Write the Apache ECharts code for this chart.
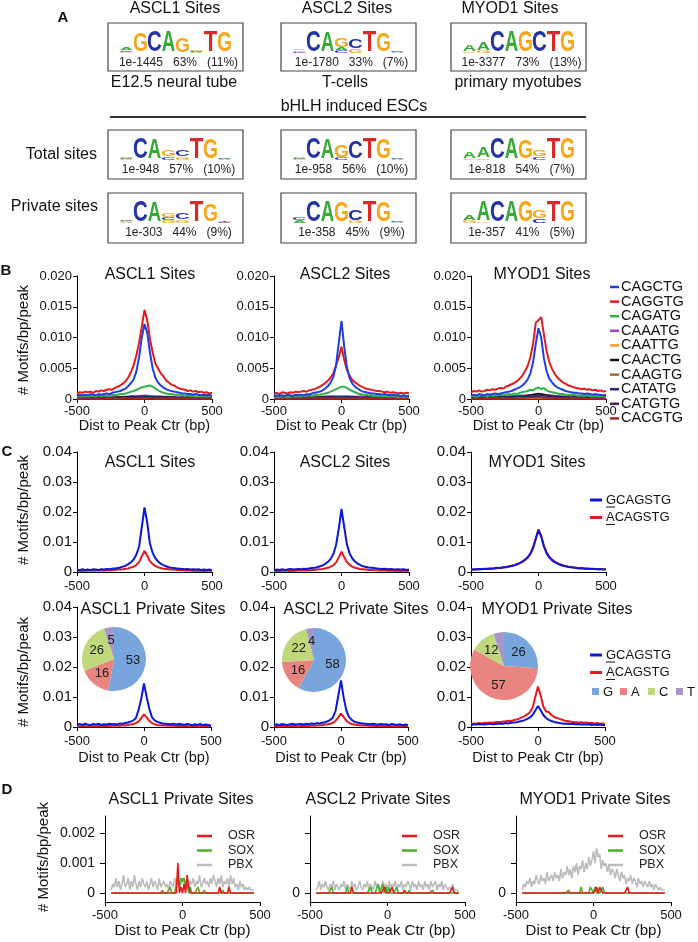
<!DOCTYPE html>
<html lang="en">
<head>
<meta charset="UTF-8">
<title>bHLH motif figure</title>
<script src="https://cdn.jsdelivr.net/npm/echarts@6/dist/echarts.min.js"></script>
<style>
  body { margin: 0; background: #fff; }
  #main { width: 698px; height: 942px; }
</style>
</head>
<body>
<div id="main"></div>
<script>
// ---------- data ----------
const factors = ['ASCL1 Sites', 'ASCL2 Sites', 'MYOD1 Sites'];
const sources = ['E12.5 neural tube', 'T-cells', 'primary myotubes'];
const privateTitles = ['ASCL1 Private Sites', 'ASCL2 Private Sites', 'MYOD1 Private Sites'];

const statsA = ['1e-1445   63%   (11%)', '1e-1780   33%   (7%)', '1e-3377   73%   (13%)'];
const statsT = ['1e-948   57%   (10%)', '1e-958   56%   (10%)', '1e-818   54%   (7%)'];
const statsP = ['1e-303   44%   (9%)', '1e-358   45%   (9%)', '1e-357   41%   (5%)'];

// sequence logos: each position is a bottom-to-top stack of [letter, relative height]
const logoA_ASCL1 = [[['G',0.06],['C',0.05],['A',0.14]], [['G',0.85]], [['C',1]], [['A',1]], [['G',0.68]], [['A',0.05],['C',0.06],['G',0.08]], [['T',1]], [['G',0.95]]];
const logoA_ASCL2 = [[['C',0.06],['G',0.06],['A',0.08]], [['C',1]], [['A',0.92]], [['C',0.15],['A',0.1],['G',0.45]], [['G',0.18],['C',0.45]], [['T',1]], [['G',0.9]], [['A',0.05],['C',0.07]]];
const logoA_MYOD1 = [[['G',0.08],['A',0.3]], [['G',0.1],['A',0.38]], [['C',1]], [['A',1]], [['G',1]], [['C',1]], [['T',1]], [['G',1]]];
const logoT_ASCL1 = [[['G',0.05],['C',0.05],['A',0.07]], [['C',1]], [['A',0.92]], [['C',0.15],['G',0.32]], [['G',0.15],['C',0.32]], [['T',1]], [['G',0.95]], [['A',0.05],['C',0.08]]];
const logoT_ASCL2 = [[['G',0.04],['C',0.06],['A',0.05]], [['C',1]], [['A',0.95]], [['C',0.1],['G',0.55]], [['C',0.8]], [['T',1]], [['G',0.95]], [['A',0.05],['C',0.08]]];
const logoT_MYOD1 = [[['G',0.08],['A',0.32]], [['G',0.08],['A',0.5]], [['C',1]], [['A',1]], [['G',0.85]], [['C',0.14],['G',0.3]], [['T',1]], [['G',1]]];
const logoP_ASCL1 = [[['A',0.05],['G',0.06],['C',0.05]], [['C',1]], [['A',0.95]], [['G',0.14],['C',0.14],['G',0.2]], [['G',0.15],['C',0.3]], [['T',1]], [['G',0.82]], [['C',0.04],['T',0.05]]];
const logoP_ASCL2 = [[['A',0.12],['C',0.1]], [['C',1]], [['A',1]], [['G',0.92]], [['G',0.1],['C',0.48]], [['T',1]], [['G',0.95]], [['A',0.05],['C',0.07]]];
const logoP_MYOD1 = [[['G',0.1],['A',0.25]], [['G',0.05],['A',0.92]], [['C',1]], [['A',1]], [['G',1]], [['C',0.18],['G',0.38]], [['T',1]], [['G',1]]];

// bin centres (bp)
const xStep20 = [-500,-480,-460,-440,-420,-400,-380,-360,-340,-320,-300,-280,-260,-240,-220,-200,-180,-160,-140,-120,-100,-80,-60,-40,-20,0,20,40,60,80,100,120,140,160,180,200,220,240,260,280,300,320,340,360,380,400,420,440,460,480,500];
const xStep50 = [-500,-450,-400,-350,-300,-250,-200,-150,-100,-50,0,50,100,150,200,250,300,350,400,450,500];
const xStep10 = [
  -460,-450,-440,-430,-420,-410,-400,-390,-380,-370,
  -360,-350,-340,-330,-320,-310,-300,-290,-280,-270,
  -260,-250,-240,-230,-220,-210,-200,-190,-180,-170,
  -160,-150,-140,-130,-120,-110,-100,-90,-80,-70,
  -60,-50,-40,-30,-20,-10,0,10,20,30,
  40,50,60,70,80,90,100,110,120,130,
  140,150,160,170,180,190,200,210,220,230,
  240,250,260,270,280,290,300,310,320,330,
  340,350,360,370,380,390,400,410,420,430,
  440,450,460];

// panel B
const bMotifs = ['CAGCTG','CAGGTG','CAGATG','CAAATG','CAATTG','CAACTG','CAAGTG','CATATG','CATGTG','CACGTG'];

const bA1_CAGCTG = [.0005,.0007,.0006,.0007,.0006,.0008,.0007,.0006,.0008,.0007,
  .0008,.0009,.0008,.0010,.0011,.0012,.0013,.0015,.0017,.0021,
  .0026,.0032,.0045,.0068,.0100,.0122,.0108,.0076,.0050,.0035,
  .0027,.0022,.0019,.0016,.0014,.0013,.0012,.0011,.0010,.0009,
  .0009,.0008,.0008,.0007,.0008,.0007,.0006,.0007,.0006,.0007,.0005];
const bA1_CAGGTG = [.0009,.0011,.0010,.0012,.0011,.0012,.0010,.0013,.0012,.0014,
  .0013,.0015,.0016,.0015,.0018,.0020,.0022,.0025,.0029,.0035,
  .0044,.0055,.0071,.0092,.0118,.0145,.0128,.0098,.0076,.0058,
  .0050,.0042,.0037,.0030,.0027,.0023,.0022,.0019,.0017,.0016,
  .0015,.0013,.0014,.0012,.0013,.0011,.0012,.0010,.0011,.0009,.0010];
const bA1_CAGATG = [.0004,.0005,.0004,.0005,.0004,.0005,.0005,.0004,.0006,.0005,
  .0006,.0005,.0006,.0007,.0006,.0007,.0008,.0008,.0009,.0010,
  .0012,.0013,.0015,.0017,.0019,.0020,.0021,.0022,.0020,.0017,
  .0014,.0012,.0010,.0009,.0008,.0008,.0007,.0007,.0006,.0006,
  .0005,.0006,.0005,.0005,.0004,.0005,.0004,.0005,.0004,.0005,.0004];
const bA1_CAAATG = [.0003,.0004,.0003,.0004,.0004,.0003,.0004,.0004,.0005,.0005,.0006,.0005,.0005,.0004,.0004,.0003,.0004,.0003,.0004,.0003,.0003];
const bA1_CAATTG = [.00005,.00004,.00006,.00005,.00004,.00005,.00006,.00005,.00004,.00006,.00007,.00005,.00006,.00004,.00005,.00006,.00004,.00005,.00006,.00004,.00005];
const bA1_CAACTG = [.0002,.0003,.0002,.0003,.0003,.0002,.0003,.0003,.0004,.0004,.0004,.0004,.0003,.0003,.0003,.0002,.0003,.0002,.0003,.0002,.0002];
const bA1_CAAGTG = [.0001,.0001,.0002,.0001,.0001,.0002,.0001,.0002,.0002,.0002,.0002,.0002,.0001,.0002,.0001,.0001,.0002,.0001,.0001,.0001,.0001];
const bA1_CATATG = [.0002,.0003,.0002,.0002,.0003,.0002,.0003,.0002,.0003,.0003,.0004,.0003,.0003,.0002,.0003,.0002,.0002,.0003,.0002,.0002,.0002];
const bA1_CATGTG = [.0001,.0001,.0001,.0002,.0001,.0001,.0001,.0002,.0001,.0002,.0002,.0001,.0002,.0001,.0001,.0001,.0002,.0001,.0001,.0001,.0001];
const bA1_CACGTG = [.0001,.0002,.0001,.0001,.0002,.0001,.0001,.0002,.0001,.0001,.0002,.0002,.0001,.0001,.0002,.0001,.0001,.0001,.0002,.0001,.0001];

const bA2_CAGCTG = [.0004,.0006,.0005,.0006,.0005,.0007,.0006,.0005,.0007,.0006,
  .0007,.0006,.0008,.0007,.0009,.0010,.0011,.0012,.0014,.0017,
  .0021,.0027,.0036,.0055,.0092,.0127,.0085,.0052,.0034,.0025,
  .0020,.0017,.0014,.0012,.0011,.0010,.0009,.0009,.0008,.0008,
  .0007,.0008,.0007,.0006,.0007,.0006,.0006,.0005,.0006,.0005,.0005];
const bA2_CAGGTG = [.0009,.0010,.0008,.0011,.0010,.0009,.0011,.0010,.0012,.0011,
  .0012,.0013,.0012,.0014,.0015,.0016,.0018,.0020,.0023,.0026,
  .0030,.0035,.0042,.0055,.0068,.0085,.0064,.0047,.0038,.0031,
  .0027,.0024,.0021,.0019,.0017,.0016,.0015,.0014,.0013,.0013,
  .0012,.0011,.0012,.0010,.0011,.0010,.0009,.0010,.0009,.0010,.0009];
const bA2_CAGATG = [.0003,.0004,.0003,.0004,.0004,.0003,.0004,.0005,.0004,.0005,
  .0004,.0005,.0005,.0006,.0005,.0006,.0007,.0007,.0008,.0009,
  .0010,.0012,.0014,.0016,.0018,.0020,.0020,.0018,.0015,.0013,
  .0011,.0009,.0008,.0007,.0007,.0006,.0006,.0005,.0005,.0005,
  .0004,.0005,.0004,.0004,.0005,.0004,.0003,.0004,.0003,.0004,.0003];
const bA2_CAAATG = [.0003,.0004,.0004,.0003,.0004,.0005,.0004,.0004,.0005,.0005,.0005,.0005,.0004,.0005,.0004,.0004,.0003,.0004,.0004,.0003,.0004];
const bA2_CAATTG = [.00004,.00005,.00005,.00006,.00004,.00005,.00005,.00006,.00005,.00004,.00006,.00005,.00005,.00004,.00006,.00005,.00004,.00005,.00005,.00006,.00004];
const bA2_CAACTG = [.0002,.0002,.0003,.0002,.0002,.0003,.0002,.0003,.0003,.0003,.0003,.0003,.0003,.0002,.0003,.0002,.0002,.0003,.0002,.0002,.0002];
const bA2_CAAGTG = [.0001,.0002,.0001,.0001,.0001,.0002,.0001,.0001,.0002,.0001,.0002,.0001,.0002,.0001,.0001,.0001,.0002,.0001,.0001,.0002,.0001];
const bA2_CATATG = [.0002,.0002,.0003,.0002,.0002,.0002,.0003,.0002,.0003,.0002,.0003,.0003,.0002,.0002,.0003,.0002,.0002,.0002,.0003,.0002,.0002];
const bA2_CATGTG = [.0001,.0001,.0002,.0001,.0001,.0001,.0001,.0001,.0002,.0001,.0002,.0001,.0001,.0002,.0001,.0001,.0001,.0001,.0002,.0001,.0001];
const bA2_CACGTG = [.0001,.0001,.0001,.0002,.0001,.0001,.0002,.0001,.0001,.0001,.0002,.0001,.0001,.0001,.0002,.0001,.0001,.0002,.0001,.0001,.0001];

const bM_CAGCTG = [.0006,.0007,.0006,.0008,.0007,.0006,.0008,.0007,.0008,.0009,
  .0008,.0009,.0010,.0011,.0012,.0013,.0015,.0017,.0019,.0022,
  .0026,.0032,.0042,.0060,.0090,.0115,.0100,.0066,.0045,.0033,
  .0027,.0022,.0019,.0017,.0015,.0013,.0012,.0011,.0010,.0010,
  .0009,.0009,.0008,.0009,.0008,.0007,.0008,.0007,.0007,.0006,.0007];
const bM_CAGGTG = [.0011,.0013,.0012,.0014,.0012,.0013,.0015,.0014,.0016,.0015,
  .0017,.0018,.0017,.0020,.0022,.0024,.0026,.0029,.0033,.0038,
  .0045,.0054,.0068,.0090,.0124,.0128,.0133,.0105,.0078,.0060,
  .0049,.0041,.0035,.0031,.0027,.0025,.0022,.0021,.0019,.0018,
  .0017,.0016,.0017,.0015,.0016,.0014,.0015,.0013,.0014,.0012,.0013];
const bM_CAGATG = [.0004,.0005,.0004,.0005,.0006,.0005,.0004,.0006,.0005,.0006,
  .0006,.0007,.0006,.0007,.0008,.0007,.0009,.0008,.0010,.0011,
  .0012,.0013,.0015,.0014,.0017,.0019,.0016,.0018,.0014,.0012,
  .0011,.0010,.0009,.0008,.0008,.0007,.0007,.0006,.0007,.0006,
  .0005,.0006,.0005,.0006,.0005,.0004,.0005,.0004,.0005,.0004,.0004];
const bM_CAAATG = [.0004,.0004,.0005,.0004,.0005,.0005,.0005,.0006,.0006,.0007,.0008,.0007,.0006,.0005,.0005,.0005,.0004,.0005,.0004,.0004,.0004];
const bM_CAATTG = [.00005,.00006,.00004,.00005,.00006,.00005,.00005,.00006,.00007,.00006,.00008,.00006,.00005,.00006,.00005,.00004,.00005,.00006,.00005,.00004,.00005];
const bM_CAACTG = [.0002,.0003,.0002,.0003,.0003,.0003,.0004,.0004,.0005,.0007,.0009,.0007,.0005,.0004,.0003,.0003,.0003,.0002,.0003,.0002,.0002];
const bM_CAAGTG = [.0001,.0002,.0001,.0002,.0001,.0002,.0002,.0002,.0003,.0003,.0003,.0003,.0002,.0002,.0002,.0001,.0002,.0001,.0002,.0001,.0001];
const bM_CATATG = [.0002,.0003,.0003,.0002,.0003,.0003,.0003,.0004,.0004,.0005,.0006,.0005,.0004,.0003,.0003,.0003,.0002,.0003,.0002,.0003,.0002];
const bM_CATGTG = [.0001,.0001,.0002,.0001,.0002,.0001,.0002,.0002,.0002,.0003,.0003,.0002,.0002,.0002,.0001,.0002,.0001,.0001,.0002,.0001,.0001];
const bM_CACGTG = [.0001,.0001,.0001,.0001,.0002,.0001,.0001,.0002,.0002,.0002,.0002,.0002,.0002,.0001,.0001,.0002,.0001,.0001,.0001,.0001,.0001];

// panel C (GCAGSTG = G, ACAGSTG = A)
const cTop_A1_G = [.0008,.0006,.0009,.0007,.0008,.0006,.0009,.0008,.0007,.0009,
  .0008,.0010,.0009,.0011,.0012,.0013,.0015,.0018,.0021,.0026,
  .0032,.0042,.0058,.0085,.0150,.0215,.0165,.0095,.0064,.0046,
  .0035,.0028,.0023,.0019,.0016,.0014,.0013,.0012,.0011,.0010,
  .0009,.0010,.0008,.0009,.0008,.0009,.0007,.0008,.0007,.0008,.0006];
const cTop_A1_A = [.0004,.0005,.0003,.0005,.0004,.0006,.0004,.0005,.0006,.0005,
  .0006,.0005,.0007,.0006,.0007,.0008,.0008,.0009,.0011,.0012,
  .0015,.0018,.0024,.0033,.0052,.0070,.0055,.0036,.0026,.0020,
  .0016,.0013,.0011,.0010,.0009,.0008,.0008,.0007,.0006,.0007,
  .0005,.0006,.0005,.0004,.0005,.0004,.0005,.0003,.0004,.0005,.0004];
const cTop_A2_G = [.0006,.0008,.0007,.0009,.0007,.0008,.0010,.0008,.0009,.0010,
  .0009,.0011,.0010,.0012,.0013,.0014,.0016,.0019,.0022,.0027,
  .0034,.0044,.0060,.0090,.0145,.0210,.0150,.0092,.0062,.0045,
  .0035,.0028,.0023,.0019,.0017,.0015,.0014,.0013,.0012,.0011,
  .0010,.0011,.0009,.0010,.0009,.0008,.0009,.0008,.0009,.0007,.0008];
const cTop_A2_A = [.0003,.0004,.0003,.0004,.0005,.0004,.0003,.0005,.0004,.0005,
  .0005,.0006,.0005,.0006,.0007,.0007,.0008,.0009,.0010,.0012,
  .0014,.0018,.0023,.0032,.0048,.0068,.0050,.0033,.0024,.0018,
  .0014,.0012,.0010,.0009,.0008,.0007,.0007,.0006,.0006,.0005,
  .0006,.0005,.0004,.0005,.0004,.0005,.0004,.0003,.0004,.0004,.0003];
const cTop_M_G = [.0007,.0009,.0008,.0010,.0009,.0011,.0010,.0012,.0011,.0013,
  .0014,.0013,.0015,.0017,.0018,.0020,.0022,.0025,.0029,.0034,
  .0040,.0048,.0060,.0080,.0110,.0140,.0118,.0085,.0062,.0048,
  .0039,.0033,.0028,.0024,.0021,.0019,.0017,.0016,.0015,.0013,
  .0012,.0013,.0011,.0012,.0010,.0011,.0010,.0009,.0010,.0008,.0009];
const cTop_M_A = [.0008,.0008,.0009,.0009,.0010,.0010,.0011,.0011,.0012,.0012,
  .0013,.0014,.0016,.0016,.0018,.0021,.0023,.0026,.0030,.0035,
  .0041,.0050,.0062,.0082,.0112,.0142,.0120,.0088,.0066,.0051,
  .0042,.0035,.0030,.0026,.0023,.0020,.0018,.0017,.0015,.0014,
  .0013,.0012,.0012,.0011,.0011,.0010,.0010,.0009,.0009,.0009,.0008];

const cPriv_A1_G = [.0006,.0010,.0007,.0011,.0008,.0006,.0010,.0008,.0011,.0007,
  .0009,.0008,.0011,.0009,.0010,.0008,.0012,.0011,.0013,.0015,
  .0018,.0022,.0030,.0058,.0095,.0145,.0100,.0060,.0032,.0022,
  .0017,.0014,.0012,.0011,.0010,.0009,.0011,.0008,.0010,.0009,
  .0007,.0010,.0008,.0006,.0009,.0007,.0010,.0006,.0008,.0007,.0005];
const cPriv_A1_A = [.0003,.0002,.0004,.0003,.0002,.0004,.0003,.0002,.0003,.0004,
  .0003,.0004,.0003,.0005,.0004,.0005,.0004,.0006,.0005,.0007,
  .0008,.0010,.0013,.0019,.0030,.0042,.0032,.0020,.0013,.0009,
  .0007,.0006,.0005,.0006,.0004,.0005,.0004,.0003,.0004,.0003,
  .0004,.0003,.0002,.0003,.0004,.0002,.0003,.0002,.0003,.0002,.0003];
const cPriv_A2_G = [.0007,.0009,.0006,.0010,.0008,.0007,.0009,.0011,.0008,.0009,
  .0010,.0008,.0011,.0009,.0012,.0010,.0013,.0012,.0014,.0016,
  .0019,.0024,.0032,.0055,.0105,.0155,.0098,.0055,.0034,.0024,
  .0018,.0015,.0013,.0012,.0011,.0010,.0009,.0011,.0009,.0008,
  .0010,.0008,.0009,.0007,.0010,.0008,.0007,.0009,.0006,.0008,.0007];
const cPriv_A2_A = [.0002,.0003,.0002,.0004,.0003,.0002,.0003,.0004,.0003,.0002,
  .0004,.0003,.0004,.0003,.0005,.0004,.0005,.0006,.0006,.0008,
  .0009,.0011,.0014,.0021,.0032,.0045,.0033,.0021,.0014,.0010,
  .0008,.0007,.0006,.0005,.0005,.0004,.0005,.0003,.0004,.0003,
  .0004,.0002,.0003,.0004,.0002,.0003,.0002,.0003,.0002,.0003,.0002];
const cPriv_M_G = [.0007,.0009,.0008,.0010,.0009,.0008,.0010,.0011,.0009,.0010,
  .0011,.0012,.0011,.0013,.0012,.0014,.0015,.0016,.0018,.0020,
  .0023,.0027,.0032,.0040,.0055,.0070,.0056,.0040,.0030,.0024,
  .0020,.0017,.0015,.0013,.0012,.0011,.0012,.0010,.0011,.0009,
  .0010,.0008,.0009,.0008,.0009,.0007,.0008,.0007,.0008,.0006,.0007];
const cPriv_M_A = [.0010,.0012,.0011,.0013,.0012,.0014,.0013,.0015,.0014,.0016,
  .0017,.0016,.0018,.0019,.0021,.0020,.0023,.0025,.0028,.0032,
  .0036,.0042,.0050,.0065,.0100,.0135,.0105,.0068,.0052,.0050,
  .0040,.0034,.0030,.0027,.0024,.0021,.0020,.0018,.0017,.0016,
  .0015,.0016,.0014,.0015,.0013,.0014,.0012,.0013,.0011,.0012,.0010];

const cMotifs = ['GCAGSTG', 'ACAGSTG'];
const pieNames = ['G', 'A', 'C', 'T'];
const pieASCL1 = [53, 16, 26, 5];
const pieASCL2 = [58, 16, 22, 4];
const pieMYOD1 = [26, 57, 12, 5];

// panel D
const dNames = ['OSR', 'SOX', 'PBX'];
const dA1_PBX = [.0001,.0003,.0002,.0005,.0002,.0004,.0001,.0003,.0006,.0002,
  .0003,.0005,.0001,.0004,.0002,.0006,.0003,.0001,.0004,.0002,
  .0005,.0003,.0002,.0004,.0001,.0003,.0005,.0002,.0004,.0003,
  .0001,.0005,.0002,.0003,.0004,.0002,.0003,.0001,.0004,.0003,
  .0002,.0005,.0003,.0004,.0002,.0003,.0005,.0002,.0004,.0003,
  .0002,.0004,.0003,.0005,.0002,.0004,.0003,.0006,.0002,.0003,
  .0005,.0003,.0004,.0002,.0005,.0003,.0006,.0004,.0002,.0005,
  .0003,.0006,.0002,.0004,.0003,.0005,.0002,.0006,.0003,.0005,
  .0002,.0003,.0001,.0004,.0002,.0003,.0001,.0002,.0001,.0002,
  .0001,.0001,.0001];
const dA1_OSR = [0,0,0,0,0,0,0,0,0,0,
  0,0,0,0,0,0,0,0,0,0,
  0,0,0,0,0,0,0,0,0,0,
  0,0,0,0,0,0,0,0,0,0,
  0,0,0,.0010,0,.0002,0,.0003,0,.0006,
  .0002,0,0,0,0,0,0,0,0,0,
  0,0,0,0,0,0,0,0,0,0,
  .0002,0,0,0,0,0,.0002,0,0,0,
  0,0,0,0,0,0,0,0,0,0,
  0,0,0];
const dA1_SOX = [0,0,0,0,0,0,0,0,0,0,
  0,0,0,0,0,0,0,0,0,0,
  0,0,0,0,0,0,0,0,0,0,
  0,0,0,.0001,0,0,0,0,.0002,0,
  0,0,.0003,.0005,.0002,.0005,.0004,.0005,.0002,.0003,
  0,.0002,0,0,0,0,.0002,0,0,0,
  .0001,0,0,0,0,0,0,0,0,0,
  0,0,.0001,0,0,0,0,0,0,0,
  0,0,0,0,0,0,0,0,0,0,
  0,0,0];
const dA2_PBX = [.0001,.0002,.0004,.0001,.0003,.0002,.0004,.0002,.0001,.0003,
  .0002,.0004,.0001,.0003,.0002,.0001,.0003,.0002,.0004,.0001,
  .0003,.0002,.0001,.0004,.0002,.0003,.0001,.0002,.0004,.0002,
  .0001,.0003,.0002,.0004,.0001,.0003,.0002,.0001,.0004,.0002,
  .0003,.0001,.0002,.0004,.0002,.0003,.0001,.0004,.0002,.0003,
  .0002,.0004,.0001,.0003,.0002,.0004,.0001,.0003,.0002,.0004,
  .0003,.0001,.0004,.0002,.0003,.0001,.0004,.0002,.0003,.0001,
  .0004,.0002,.0003,.0001,.0004,.0002,.0003,.0004,.0001,.0003,
  .0002,.0004,.0001,.0003,.0002,.0001,.0002,.0001,.0003,.0001,
  .0001,.0001,0];
const dA2_OSR = [0,0,0,0,0,0,0,0,0,0,
  0,0,0,0,0,0,0,0,0,0,
  0,0,0,.0002,0,0,0,0,0,0,
  0,0,0,0,0,0,0,0,0,0,
  0,0,0,0,.0002,0,0,0,0,.0002,
  0,0,0,0,0,0,0,.0001,0,0,
  0,0,0,0,0,0,0,0,0,0,
  0,0,0,0,0,0,0,0,0,0,
  0,0,0,0,0,0,0,0,.0002,0,
  0,0,0];
const dA2_SOX = [0,0,0,0,0,0,0,0,0,0,
  .0002,0,0,0,0,0,0,0,0,0,
  .0002,0,0,0,0,0,0,0,0,0,
  0,0,0,0,0,.0002,0,0,0,0,
  .0003,0,0,.0003,0,.0002,0,.0002,0,0,
  0,0,.0002,0,0,0,0,0,0,0,
  .0001,0,0,0,0,0,0,0,0,0,
  0,0,0,0,0,.0001,0,0,0,0,
  0,0,0,0,0,0,0,0,0,0,
  0,0,0];
const dM_PBX = [.0001,.0003,.0002,.0004,.0003,.0005,.0002,.0004,.0003,.0006,
  .0004,.0003,.0006,.0004,.0005,.0003,.0007,.0004,.0005,.0006,
  .0004,.0007,.0005,.0006,.0004,.0008,.0005,.0007,.0006,.0009,
  .0006,.0008,.0005,.0009,.0007,.0010,.0006,.0009,.0008,.0011,
  .0007,.0010,.0008,.0012,.0009,.0011,.0014,.0010,.0015,.0012,
  .0013,.0008,.0011,.0009,.0010,.0007,.0009,.0006,.0008,.0007,
  .0005,.0008,.0006,.0004,.0007,.0005,.0006,.0003,.0005,.0004,
  .0006,.0003,.0005,.0004,.0002,.0005,.0003,.0004,.0002,.0004,
  .0003,.0002,.0004,.0002,.0003,.0001,.0003,.0002,.0001,.0002,
  .0001,.0001,.0001];
const dM_OSR = [0,0,0,0,0,0,0,0,0,0,
  0,0,0,0,0,0,0,0,0,0,
  0,0,0,0,0,0,0,0,0,0,
  0,0,0,0,0,0,0,0,0,0,
  0,0,0,0,0,0,0,0,.0002,0,
  .0002,.0002,0,0,0,0,0,0,0,0,
  0,0,0,0,0,0,0,0,.0002,0,
  0,0,0,0,0,0,0,0,0,0,
  0,0,0,0,0,0,0,0,0,0,
  0,0,0];
const dM_SOX = [0,0,0,0,0,0,0,0,0,0,
  0,0,0,0,0,0,0,0,0,0,
  0,0,0,0,0,0,0,0,0,0,
  .0001,0,0,0,0,0,0,0,.0002,0,
  0,0,0,0,.0002,.0002,0,.0002,0,0,
  0,0,.0002,0,0,0,0,0,0,0,
  0,0,0,0,0,0,0,0,0,0,
  0,0,0,0,0,0,0,0,0,0,
  0,0,0,0,0,0,0,0,0,0,
  0,0,0];
const dTicks = [0, 0.001, 0.002];

// ---------- styling ----------
const FONT = "'Liberation Sans', Arial, sans-serif";
const letterColors = { A: '#36a936', C: '#2434a3', G: '#f5a71c', T: '#d52a2a' };
const bColors = ['#1f3fe0', '#e41a1c', '#2eb344', '#a63fc8', '#f39a32', '#111111', '#9b6b2f', '#1e2a78', '#4b1b4d', '#a8262a'];
const cColors = ['#0b18d8', '#e31a1c'];
const pieColors = ['#78a6dc', '#e98581', '#c0d87c', '#a996c8'];
const dColors = ['#e41a1c', '#4daf2a', '#bcbcbc'];

const grids = [], xAxes = [], yAxes = [], series = [], els = [];

function txt(x, y, text, size, o) {
  o = o || {};
  return {
    type: 'text', x: x, y: y, rotation: o.rot || 0, silent: true,
    style: {
      text: text, fontSize: size, fontFamily: FONT, fontWeight: o.bold ? 'bold' : 'normal',
      fill: o.color || '#111', align: o.align || 'center', verticalAlign: 'middle',
      textAlign: o.align || 'center', textVerticalAlign: 'middle'
    }
  };
}
function seg(x1, y1, x2, y2, color, w) {
  return { type: 'line', silent: true, shape: { x1: x1, y1: y1, x2: x2, y2: y2 }, style: { stroke: color, lineWidth: w } };
}

function addGrid(left, top, width, height, xa, ya) {
  const gi = grids.length;
  grids.push({ left: left, top: top, width: width, height: height, containLabel: false, outerBoundsMode: 'none' });
  xa.gridIndex = gi; ya.gridIndex = gi;
  xAxes.push(xa); yAxes.push(ya);
  return gi;
}
function xAxisCfg(margin, name, gap, nameSize) {
  return {
    type: 'value', min: -500, max: 500, interval: 500,
    axisLine: { show: true, onZero: false, lineStyle: { color: '#000', width: 1 } },
    axisTick: { show: true, length: 4, lineStyle: { color: '#000', width: 1 } },
    axisLabel: { show: true, color: '#111', fontSize: 13, margin: margin },
    splitLine: { show: false },
    name: name || '', nameLocation: 'middle', nameGap: gap || 0,
    nameTextStyle: { color: '#111', fontSize: nameSize || 14.5 }
  };
}
function yAxisCfg(max, step, digits, size) {
  return {
    type: 'value', min: 0, max: max, interval: step,
    axisLine: { show: true, onZero: false, lineStyle: { color: '#000', width: 1 } },
    axisTick: { show: true, length: 4, lineStyle: { color: '#000', width: 1 } },
    axisLabel: { show: true, color: '#111', fontSize: size, margin: 5,
      formatter: function (v) { return v === 0 ? '0' : v.toFixed(digits); } },
    splitLine: { show: false }
  };
}
function addLine(gi, xs, ys, color, width, name) {
  series.push({
    type: 'line', name: name, xAxisIndex: gi, yAxisIndex: gi,
    data: xs.map(function (x, i) { return [x, ys[i]]; }),
    symbol: 'none', silent: true, animation: false,
    lineStyle: { color: color, width: width }, itemStyle: { color: color }
  });
}

// ---------- panel A: logos ----------
const LOGO_COL = 14;
function logoEls(logo, left, baseline) {
  const lw = 13.2, fullH = 21, F = 20;
  const inkW = { A: 14.2, C: 12.9, G: 13.7, T: 11.8 };
  const capH = 0.716 * F;
  logo.forEach(function (stack, i) {
    let yb = baseline;
    const cx = left + i * LOGO_COL + LOGO_COL / 2;
    stack.forEach(function (it) {
      const L = it[0], h = it[1] * fullH;
      const sy = h / capH, sx = lw / inkW[L];
      els.push({
        type: 'text', x: cx, y: yb - h / 2 + 0.012 * F * sy, scaleX: sx, scaleY: sy, silent: true,
        style: { text: L, fontSize: F, fontFamily: FONT, fontWeight: 'bold', fill: letterColors[L],
          align: 'center', verticalAlign: 'middle', textAlign: 'center', textVerticalAlign: 'middle' }
      });
      yb -= h;
    });
  });
}

const boxLefts = [108, 281, 451], boxW = 135;
const rows = [
  { top: 23, h: 48, logos: [logoA_ASCL1, logoA_ASCL2, logoA_MYOD1], stats: statsA },
  { top: 130, h: 49, logos: [logoT_ASCL1, logoT_ASCL2, logoT_MYOD1], stats: statsT },
  { top: 193, h: 50, logos: [logoP_ASCL1, logoP_ASCL2, logoP_MYOD1], stats: statsP }
];
rows.forEach(function (r) {
  boxLefts.forEach(function (bx, c) {
    els.push({ type: 'rect', silent: true, shape: { x: bx, y: r.top, width: boxW, height: r.h },
      style: { fill: 'none', stroke: '#444', lineWidth: 1.2 } });
    const lg = r.logos[c];
    logoEls(lg, bx + (boxW - lg.length * LOGO_COL) / 2, r.top + 30);
    els.push(txt(bx + boxW / 2 + 3, r.top + 40, r.stats[c], 12, { color: '#222' }));
  });
});
const titleX = [175, 347, 510], sourceX = [174, 345, 518];
factors.forEach(function (t, i) { els.push(txt(titleX[i], 9, t, 16)); });
sources.forEach(function (t, i) { els.push(txt(sourceX[i], 83, t, 16)); });
els.push(txt(354, 107, 'bHLH induced ESCs', 16));
els.push(seg(110, 117, 586, 117, '#333', 2));
els.push(txt(97, 155, 'Total sites', 16, { align: 'right' }));
els.push(txt(98, 207, 'Private sites', 16, { align: 'right' }));

// panel letters
els.push(txt(63, 18, 'A', 15, { bold: true }));
els.push(txt(6, 271, 'B', 15, { bold: true }));
els.push(txt(7, 452, 'C', 15, { bold: true }));
els.push(txt(7, 790, 'D', 15, { bold: true }));

// y axis titles
[[24, 340], [24, 510], [24, 672], [44, 857]].forEach(function (p) {
  els.push(txt(p[0], p[1], '# Motifs/bp/peak', 15, { rot: Math.PI / 2 }));
});

// ---------- panel B ----------
const bLefts = [77, 274, 471];
const bData = [
  [bA1_CAGCTG, bA1_CAGGTG, bA1_CAGATG, bA1_CAAATG, bA1_CAATTG, bA1_CAACTG, bA1_CAAGTG, bA1_CATATG, bA1_CATGTG, bA1_CACGTG],
  [bA2_CAGCTG, bA2_CAGGTG, bA2_CAGATG, bA2_CAAATG, bA2_CAATTG, bA2_CAACTG, bA2_CAAGTG, bA2_CATATG, bA2_CATGTG, bA2_CACGTG],
  [bM_CAGCTG, bM_CAGGTG, bM_CAGATG, bM_CAAATG, bM_CAATTG, bM_CAACTG, bM_CAAGTG, bM_CATATG, bM_CATGTG, bM_CACGTG]
];
const bTitleX = [150, 345, 542];
bLefts.forEach(function (left, k) {
  const gi = addGrid(left, 276, 135, 123, xAxisCfg(6, 'Dist to Peak Ctr (bp)', 18, 14.5), yAxisCfg(0.02, 0.005, 3, 13));
  const order = [3, 4, 5, 6, 7, 8, 9, 2, 1, 0];
  order.forEach(function (m) {
    const ys = bData[k][m];
    addLine(gi, ys.length === 51 ? xStep20 : xStep50, ys, bColors[m], m < 3 ? 2 : 1.6, bMotifs[m]);
  });
  els.push(txt(bTitleX[k], 275, factors[k], 16));
});
bMotifs.forEach(function (m, i) {
  const y = 287 + i * 14.6;
  els.push(seg(610, y, 619, y, bColors[i], 2.5));
  els.push(txt(621, y, m, 14.5, { align: 'left' }));
});

// ---------- panel C ----------
const cLefts = [77, 274, 471];
const cTopData = [[cTop_A1_G, cTop_A1_A], [cTop_A2_G, cTop_A2_A], [cTop_M_G, cTop_M_A]];
const cPrivData = [[cPriv_A1_G, cPriv_A1_A], [cPriv_A2_G, cPriv_A2_A], [cPriv_M_G, cPriv_M_A]];
const cTopTitleX = [150, 345, 537], cPrivTitleX = [153, 356, 557];
cLefts.forEach(function (left, k) {
  const gi = addGrid(left, 452, 135, 120, xAxisCfg(8), yAxisCfg(0.04, 0.01, 2, 15));
  addLine(gi, xStep20, cTopData[k][1], cColors[1], 2, cMotifs[1]);
  addLine(gi, xStep20, cTopData[k][0], cColors[0], 2, cMotifs[0]);
  els.push(txt(cTopTitleX[k], 463, factors[k], 16));
});
cLefts.forEach(function (left, k) {
  const gi = addGrid(left, 607, 134, 120, xAxisCfg(8, 'Dist to Peak Ctr (bp)', 23, 14.5), yAxisCfg(0.04, 0.01, 2, 15));
  addLine(gi, xStep20, cPrivData[k][1], cColors[1], 2, cMotifs[1]);
  addLine(gi, xStep20, cPrivData[k][0], cColors[0], 2, cMotifs[0]);
  els.push(txt(cPrivTitleX[k], 610, privateTitles[k], 16));
});
// pies of flanking base
const pieSets = [pieASCL1, pieASCL2, pieMYOD1];
const pieCenters = [[114, 659], [314, 660], [504, 666]];
const pieRadius = [32, 32, 34];
pieSets.forEach(function (vals, k) {
  series.push({
    type: 'pie', center: pieCenters[k], radius: pieRadius[k], startAngle: 90, clockwise: true,
    silent: true, animation: false, z: 5,
    label: { show: true, position: 'inside', formatter: '{c}', fontSize: 13, color: '#1a1a1a' },
    labelLine: { show: false },
    data: pieNames.map(function (n, i) { return { name: n, value: vals[i], itemStyle: { color: pieColors[i] } }; })
  });
});
// C legends
function cLegend(x0, y0) {
  cMotifs.forEach(function (m, i) {
    const y = y0 + i * 17.5;
    els.push(seg(x0, y, x0 + 12, y, cColors[i], 3));
    els.push(txt(x0 + 16, y, m, 13, { align: 'left' }));
    els.push(seg(x0 + 16, y + 7, x0 + 25, y + 7, '#111', 1));
  });
}
cLegend(590, 500);
cLegend(590, 655);
pieNames.forEach(function (n, i) {
  const x = 592 + i * 28;
  els.push({ type: 'rect', silent: true, shape: { x: x, y: 688, width: 7, height: 7 }, style: { fill: pieColors[i] } });
  els.push(txt(x + 11, 692, n, 13, { align: 'left' }));
});

// ---------- panel D ----------
const dLefts = [105, 310, 516];
const dData = [[dA1_OSR, dA1_SOX, dA1_PBX], [dA2_OSR, dA2_SOX, dA2_PBX], [dM_OSR, dM_SOX, dM_PBX]];
const dTitleX = [181, 378, 595];
dLefts.forEach(function (left, k) {
  const ya = {
    type: 'value', min: -0.0003, max: 0.00257,
    axisLine: { show: true, onZero: false, lineStyle: { color: '#000', width: 1 } },
    axisTick: { show: true, length: 5, customValues: dTicks, lineStyle: { color: '#000', width: 1 } },
    axisLabel: { show: true, color: '#111', fontSize: 14, margin: 10, customValues: k === 0 ? dTicks : [0],
      formatter: function (v) { return v === 0 ? '0' : v.toFixed(3); } },
    splitLine: { show: false }
  };
  const gi = addGrid(left, 816, 155, 86, xAxisCfg(7, 'Dist to Peak Ctr (bp)', 20, 15), ya);
  [2, 1, 0].forEach(function (s) {
    addLine(gi, xStep10, dData[k][s], dColors[s], 1.6, dNames[s]);
  });
  els.push(txt(dTitleX[k], 800, privateTitles[k], 16));
  dNames.forEach(function (n, i) {
    const y = 836 + i * 14.5;
    els.push(seg(left + 92, y, left + 107, y, dColors[i], 2.5));
    els.push(txt(left + 123, y, n, 12.5, { align: 'left', color: '#222' }));
  });
});

const chart = echarts.init(document.getElementById('main'));
chart.setOption({
  animation: false,
  backgroundColor: '#fff',
  textStyle: { fontFamily: FONT },
  grid: grids,
  xAxis: xAxes,
  yAxis: yAxes,
  series: series,
  graphic: { elements: els }
});
</script>
</body>
</html>
